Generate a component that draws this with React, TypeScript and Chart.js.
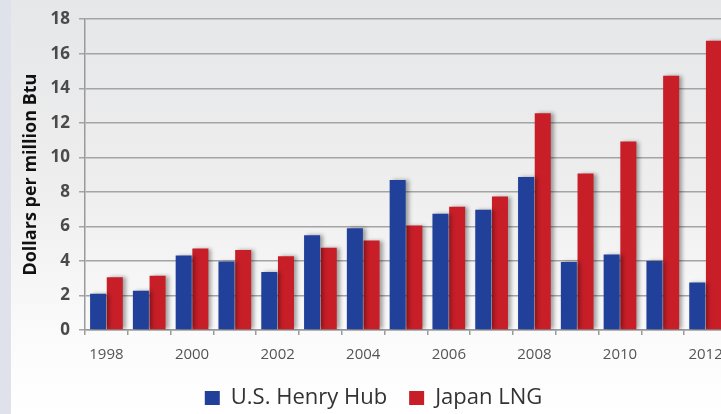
import React, { useEffect, useRef } from "react";
import { Chart, registerables } from "chart.js";

Chart.register(...registerables);

const years = ["1998", "1999", "2000", "2001", "2002", "2003", "2004", "2005", "2006", "2007", "2008", "2009", "2010", "2011", "2012"];
const henryHub = [2.1, 2.27, 4.31, 3.96, 3.36, 5.49, 5.9, 8.69, 6.73, 6.97, 8.86, 3.94, 4.37, 4.0, 2.75];
const japanLng = [3.05, 3.14, 4.72, 4.64, 4.27, 4.77, 5.18, 6.05, 7.14, 7.73, 12.55, 9.06, 10.91, 14.73, 16.75];
const yTicks = [0, 2, 4, 6, 8, 10, 12, 14, 16, 18];

const FONT = "'Open Sans', 'DejaVu Sans', sans-serif";

const backdrop = {
  id: "backdrop",
  beforeDraw(chart: any) {
    const { ctx, width, height } = chart;
    ctx.save();
    const g = ctx.createLinearGradient(0, 0, 0, height);
    g.addColorStop(0, "#e6e7e8");
    g.addColorStop(0.45, "#eeeeef");
    g.addColorStop(0.82, "#fbfbfb");
    g.addColorStop(1, "#ffffff");
    ctx.fillStyle = g;
    ctx.fillRect(0, 0, width, height);
    ctx.fillStyle = "#dfe2ea";
    ctx.fillRect(0, 0, 11, height);
    ctx.restore();
  },
};

// soft drop shadow to the right of each bar
const barShadow = {
  id: "barShadow",
  beforeDatasetDraw(chart: any) {
    const ctx = chart.ctx;
    ctx.save();
    ctx.shadowColor = "rgba(0,0,0,0.35)";
    ctx.shadowBlur = 4;
    ctx.shadowOffsetX = 3;
    ctx.shadowOffsetY = 0;
  },
  afterDatasetDraw(chart: any) {
    chart.ctx.restore();
  },
};

export default function App() {
  const ref = useRef<HTMLCanvasElement>(null);

  useEffect(() => {
    if (!ref.current) return;
    const chart = new Chart(ref.current, {
      type: "bar",
      data: {
        labels: years,
        datasets: [
          {
            label: "U.S. Henry Hub",
            data: henryHub,
            backgroundColor: "#21409a",
            barPercentage: 0.96,
            categoryPercentage: 0.78,
          },
          {
            label: "Japan LNG",
            data: japanLng,
            backgroundColor: "#c81e28",
            barPercentage: 0.96,
            categoryPercentage: 0.78,
          },
        ],
      },
      options: {
        animation: false,
        responsive: false,
        maintainAspectRatio: false,
        layout: { padding: { top: 15, right: 15, left: 20, bottom: -5 } },
        plugins: {
          legend: {
            position: "bottom",
            labels: {
              boxWidth: 15,
              boxHeight: 14,
              padding: 22,
              color: "#333333",
              font: { family: FONT, size: 22 },
            },
          },
          tooltip: { enabled: false },
        },
        scales: {
          x: {
            offset: true,
            afterFit: (scale: any) => {
              scale.height -= 10;
            },
            grid: {
              offset: true,
              drawOnChartArea: false,
              drawTicks: true,
              tickLength: 5,
              color: "#9a9a9a",
              lineWidth: 1.5,
            },
            border: { color: "#9a9a9a", width: 1.5 },
            ticks: {
              autoSkip: false,
              maxRotation: 0,
              color: "#555555",
              padding: 11,
              font: { family: FONT, size: 15 },
              callback: (_v: any, i: number) => (i % 2 === 0 ? years[i] : ""),
            },
          },
          y: {
            min: 0,
            max: 18,
            afterBuildTicks: (axis: any) => {
              axis.ticks = yTicks.map((v) => ({ value: v }));
            },
            grid: {
              color: "#a4a4a4",
              lineWidth: 1.5,
              tickLength: 6,
            },
            border: { color: "#9a9a9a", width: 1.5 },
            ticks: {
              color: "#4a4a4a",
              padding: 9,
              font: { family: FONT, size: 17, weight: "bold" },
            },
            title: {
              display: true,
              text: "Dollars per million Btu",
              color: "#111111",
              padding: { top: 0, bottom: 0 },
              font: { family: FONT, size: 18, weight: "bold" },
            },
          },
        },
      },
      plugins: [backdrop, barShadow],
    });
    return () => chart.destroy();
  }, []);

  return (
    <div style={{ position: "fixed", left: 0, top: 0, width: 721, height: 414, overflow: "hidden" }}>
      <canvas ref={ref} width={742} height={414} style={{ display: "block", width: 742, height: 414 }} />
    </div>
  );
}
